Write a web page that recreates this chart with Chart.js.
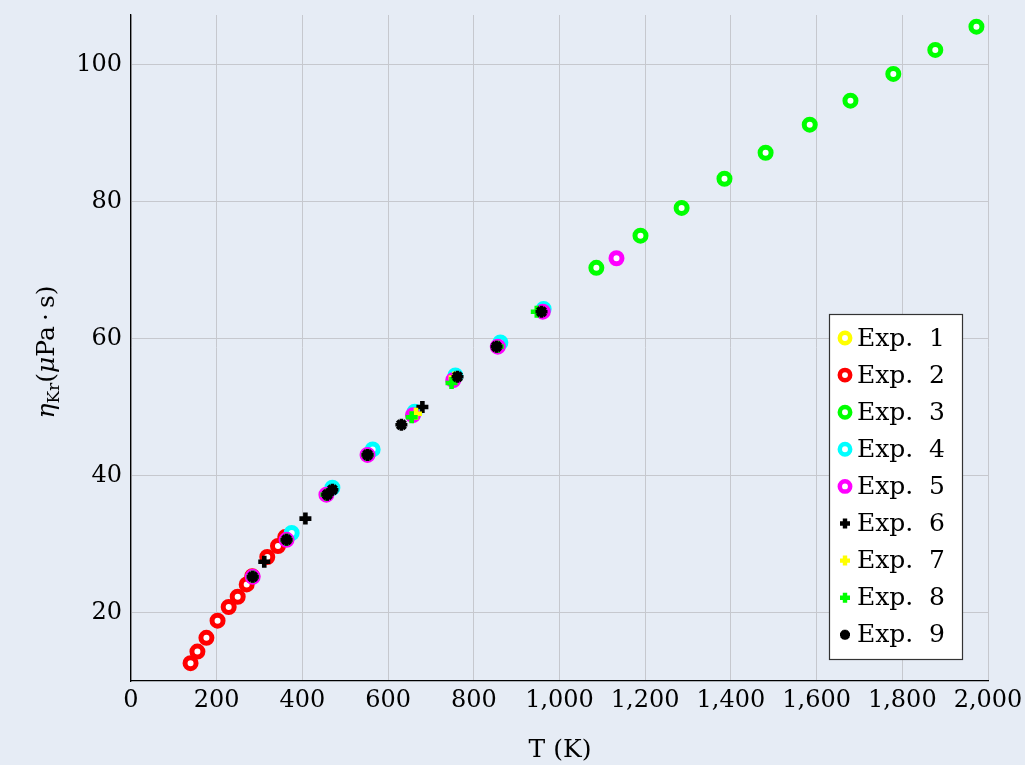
<!DOCTYPE html>
<html><head><meta charset="utf-8">
<script src="https://cdn.jsdelivr.net/npm/chart.js@4/dist/chart.umd.min.js"></script>
<style>
html,body{margin:0;padding:0;background:#e6ecf5;}
#wrap{width:1025px;height:765px;position:relative;overflow:hidden;}
canvas{display:block;}
</style></head><body><div id="wrap"><canvas id="c" width="1025" height="765"></canvas></div>
<script>
// ---- data ----
const seriesNames = ['Exp. 1','Exp. 2','Exp. 3','Exp. 4','Exp. 5','Exp. 6','Exp. 7','Exp. 8','Exp. 9'];
const exp1T = [];
const exp1Eta = [];
const exp2T = [139,155,176,202,228,249,270,283,318,343,360];
const exp2Eta = [12.6,14.3,16.3,18.8,20.8,22.3,24.1,25.3,28.1,29.7,31.0];
const exp3T = [1086,1189,1285,1385,1481,1584,1679,1779,1877,1973];
const exp3Eta = [70.3,75.0,79.05,83.3,87.1,91.2,94.7,98.6,102.1,105.5];
const exp4T = [375,470,564,662,757,862,963];
const exp4Eta = [31.6,38.2,43.8,49.3,54.6,59.4,64.3];
const exp5T = [284,363,456,552,658,752,856,961,1133];
const exp5Eta = [25.2,30.6,37.2,43.0,48.8,53.9,58.8,63.9,71.7];
const exp6T = [311,407,680];
const exp6Eta = [27.4,33.7,50.0];
const exp7T = [665,755];
const exp7Eta = [49.0,54.3];
const exp8T = [284,363,456,552,655,748,856,947];
const exp8Eta = [25.2,30.6,37.2,43.0,48.5,53.5,58.8,63.9];
const exp9T = [284,363,458,470,552,631,762,853,958];
const exp9Eta = [25.2,30.6,37.2,37.9,43.0,47.4,54.4,58.8,63.9];
const xTicks = [0,200,400,600,800,1000,1200,1400,1600,1800,2000];
const yTicks = [20,40,60,80,100];

const seriesT = [exp1T,exp2T,exp3T,exp4T,exp5T,exp6T,exp7T,exp8T,exp9T];
const seriesEta = [exp1Eta,exp2Eta,exp3Eta,exp4Eta,exp5Eta,exp6Eta,exp7Eta,exp8Eta,exp9Eta];
const colors = ['#ffff00','#ff0000','#00ff00','#00ffff','#ff00ff','#000000','#ffff00','#00ff00','#000000'];
const styles = ['circle','circle','circle','circle','circle','cross','cross','cross','star'];

const FONT = '"DejaVu Serif", "Liberation Serif", serif';
const BG = '#e6ecf5';

function pts(t, e){ return t.map((v,i)=>({x:v, y:e[i]})); }

const datasets = seriesNames.map((name,i)=>{
  const ring = styles[i]==='circle';
  return {
    label: name,
    data: pts(seriesT[i], seriesEta[i]),
    order: 20 - i,
    pointStyle: styles[i],
    pointRadius: ring ? 5.5 : 6,
    pointBorderWidth: ring ? 5 : (styles[i]==='star' ? 3.6 : 4.6),
    pointBorderColor: colors[i],
    pointBackgroundColor: ring ? '#ffffff' : colors[i],
    showLine: false
  };
});

const bgPlugin = {
  id:'bg',
  beforeDraw(chart){
    const c = chart.ctx;
    c.save(); c.fillStyle = BG; c.fillRect(0,0,chart.width,chart.height); c.restore();
  }
};

function drawSegments(ctx, segs, cx, cy){
  let total = 0;
  segs.forEach(s=>{ ctx.font = s.font; s.w = ctx.measureText(s.t).width; total += s.w; });
  let x = cx - total/2;
  segs.forEach(s=>{ ctx.font = s.font; ctx.fillText(s.t, x, cy + (s.dy||0)); x += s.w; });
}

const textPlugin = {
  id:'texts',
  afterDraw(chart){
    const ctx = chart.ctx;
    ctx.save();
    ctx.fillStyle = '#000';
    ctx.textBaseline = 'alphabetic';
    ctx.textAlign = 'left';
    // x title
    drawSegments(ctx, [{t:'T (K)', font:'25px '+FONT}], 560, 757);
    // y title
    ctx.save();
    ctx.translate(54, 352);
    ctx.rotate(-Math.PI/2);
    drawSegments(ctx, [
      {t:'η', font:'italic 25px '+FONT},
      {t:'Kr', font:'17px '+FONT, dy:5},
      {t:'(', font:'25px '+FONT},
      {t:'μ', font:'italic 25px '+FONT},
      {t:'Pa\u2009·\u2009s', font:'25px '+FONT},
      {t:')', font:'25px '+FONT}
    ], 0, 0);
    ctx.restore();

    // legend
    const bx = 829.5, by = 314.5, bw = 133, bh = 345;
    ctx.fillStyle = '#ffffff';
    ctx.fillRect(bx, by, bw, bh);
    ctx.strokeStyle = '#333333';
    ctx.lineWidth = 1.2;
    ctx.strokeRect(bx, by, bw, bh);
    const rowY0 = 338, rowStep = 37.1;
    seriesNames.forEach((name,i)=>{
      const y = rowY0 + i*rowStep;
      const ring = styles[i]==='circle';
      ctx.fillStyle = ring ? '#ffffff' : colors[i];
      ctx.strokeStyle = colors[i];
      ctx.lineWidth = ring ? 4.5 : (styles[i]==='star' ? 3.4 : 4.4);
      Chart.helpers.drawPoint(ctx, {pointStyle: styles[i], radius: ring?5.2:5, borderWidth: ctx.lineWidth, rotation:0}, 845, y);
      ctx.fillStyle = '#000';
      ctx.font = '25px '+FONT;
      ctx.textBaseline = 'middle';
      const parts = name.split(' ');
      ctx.fillText(parts[0], 857, y+1);
      ctx.fillText(parts[1], 929, y+1);
    });
    ctx.restore();
  }
};

new Chart(document.getElementById('c'), {
  type: 'scatter',
  data: { datasets },
  options: {
    responsive: false,
    animation: false,
    devicePixelRatio: 1,
    events: [],
    layout: { padding: { top: 15, right: 37, left: 0, bottom: 0 } },
    plugins: { legend: { display: false }, tooltip: { enabled: false } },
    scales: {
      x: {
        type: 'linear', min: 0, max: 2000,
        afterBuildTicks(s){ s.ticks = xTicks.map(v=>({value:v})); },
        afterFit(s){ s.height = 84; s.paddingLeft = 0; s.paddingRight = 0; },
        grid: { color: '#c6c8ce', lineWidth: 1, drawTicks: false },
        border: { display: true, color: '#000', width: 1.3 },
        ticks: { autoSkip:false, maxRotation:0, padding: 5, color:'#000',
          font: { family: FONT, size: 24 },
          callback: v => Number(v).toLocaleString('en-US') }
      },
      y: {
        type: 'linear', min: 10, max: 107.2,
        afterBuildTicks(s){ s.ticks = yTicks.map(v=>({value:v})); },
        afterFit(s){ s.width = 131; s.paddingTop = 0; s.paddingBottom = 0; },
        grid: { color: '#c6c8ce', lineWidth: 1, drawTicks: false },
        border: { display: true, color: '#000', width: 1.3 },
        ticks: { padding: 9, color:'#000', font: { family: FONT, size: 24 } }
      }
    }
  },
  plugins: [bgPlugin, textPlugin]
});
</script></body></html>
